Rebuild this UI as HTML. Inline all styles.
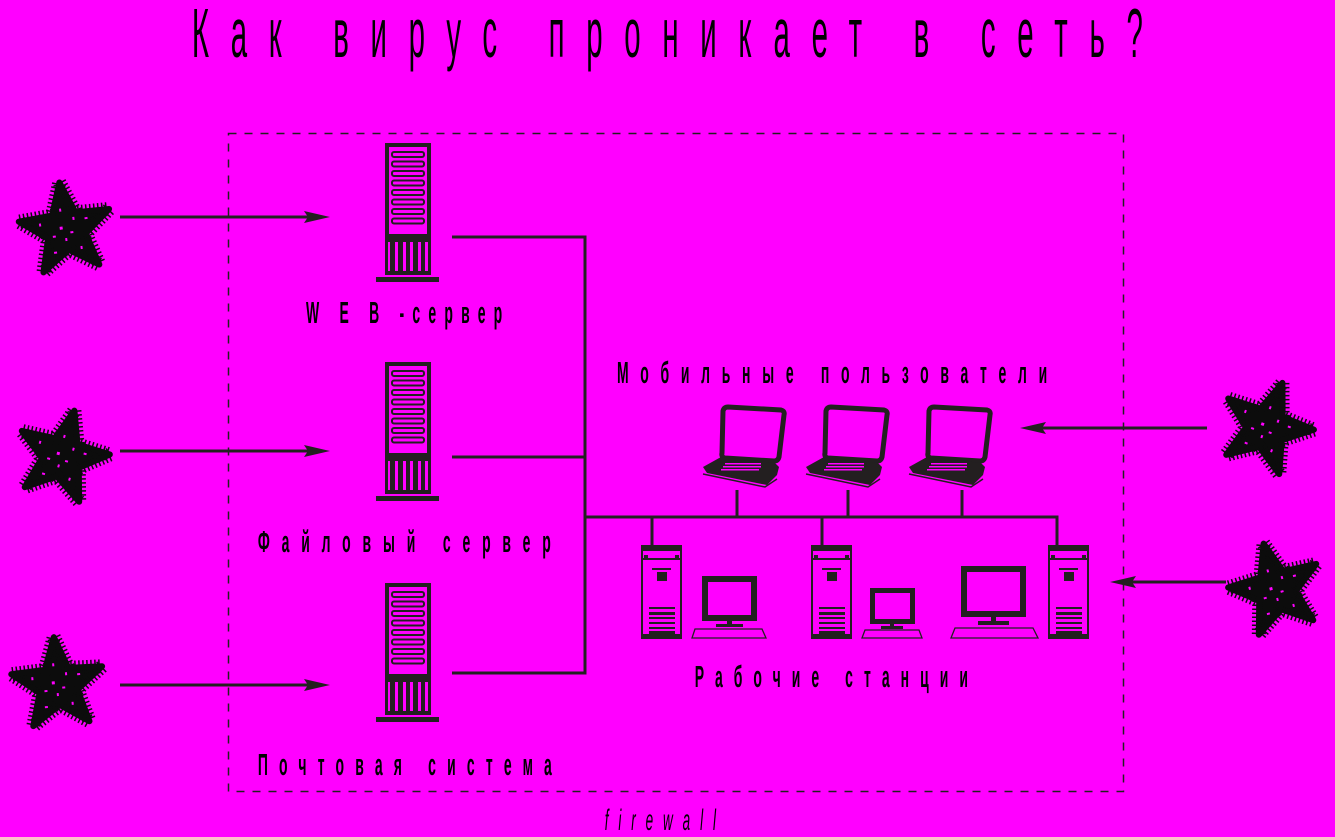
<!DOCTYPE html>
<html><head><meta charset="utf-8"><style>
html,body{margin:0;padding:0;background:#ff00ff;}
svg{display:block}
</style></head><body>
<svg width="1335" height="837" viewBox="0 0 1335 837" xmlns="http://www.w3.org/2000/svg">
<defs>
<g id="star">
  <polygon points="0,-48 11.8,-16.2 45.6,-14.8 19,6.2 28.2,38.8 0,20 -28.2,38.8 -19,6.2 -45.6,-14.8 -11.8,-16.2" fill="#0c0c0c" stroke="#0c0c0c" stroke-width="6" stroke-linejoin="round"/>
  <polygon points="0,-48 11.8,-16.2 45.6,-14.8 19,6.2 28.2,38.8 0,20 -28.2,38.8 -19,6.2 -45.6,-14.8 -11.8,-16.2" fill="none" stroke="#0c0c0c" stroke-width="14" stroke-dasharray="1.5 2.5" stroke-linejoin="round"/>
  <g fill="#ff00ff"><rect x="-6" y="-4" width="3" height="3"/><rect x="4" y="2" width="3" height="2"/><rect x="-2" y="8" width="2" height="3"/><rect x="8" y="-12" width="2" height="3"/><rect x="-14" y="4" width="3" height="2"/><rect x="-4" y="-22" width="2" height="3"/><rect x="20" y="-10" width="3" height="2"/><rect x="12" y="18" width="2" height="3"/><rect x="-15" y="20" width="3" height="2"/><rect x="-26" y="-10" width="2" height="3"/></g>
</g>
<g id="server">
  <rect x="0" y="0" width="46" height="132" fill="#231f20"/>
  <rect x="4" y="4" width="38" height="87" fill="#ff00ff"/>
  <g fill="none" stroke="#231f20" stroke-width="2">
    <rect x="7" y="9" width="32" height="5" rx="2"/>
    <rect x="7" y="18.5" width="32" height="5" rx="2"/>
    <rect x="7" y="28" width="32" height="5" rx="2"/>
    <rect x="7" y="37.5" width="32" height="5" rx="2"/>
    <rect x="7" y="47" width="32" height="5" rx="2"/>
    <rect x="7" y="56.5" width="32" height="5" rx="2"/>
    <rect x="7" y="66" width="32" height="5" rx="2"/>
    <rect x="7" y="75.5" width="32" height="5" rx="2"/>
  </g>
  <g fill="#ff00ff">
    <rect x="3" y="99" width="2" height="29"/><rect x="10" y="99" width="3" height="29"/><rect x="18" y="99" width="3" height="29"/><rect x="25" y="99" width="3" height="29"/><rect x="33" y="99" width="3" height="29"/><rect x="40" y="99" width="3" height="29"/>
  </g>
  <rect x="-9" y="134" width="63" height="5" fill="#231f20"/>
</g>
<g id="tower">
  <rect x="1" y="1" width="39" height="91" fill="none" stroke="#231f20" stroke-width="2"/>
  <rect x="0" y="0" width="41" height="6" fill="#231f20"/>
  <rect x="0" y="13" width="41" height="2" fill="#231f20"/>
  <rect x="3" y="10" width="4" height="3" fill="#231f20"/><rect x="34" y="10" width="4" height="3" fill="#231f20"/>
  <rect x="11" y="23" width="19" height="2" fill="#231f20"/>
  <rect x="16" y="27" width="10" height="9" fill="#231f20"/>
  <g fill="#231f20"><rect x="8" y="62" width="26" height="2"/><rect x="8" y="67" width="26" height="3"/><rect x="8" y="72" width="26" height="2"/><rect x="8" y="77" width="26" height="2"/><rect x="8" y="82" width="26" height="2"/><rect x="8" y="86" width="26" height="3"/></g>
  <rect x="0" y="89" width="41" height="5" fill="#231f20"/>
</g>
<g id="laptop">
  <path d="M25,2 L78,5 Q82,6 81,10 L76,52 Q75,56 71,56 L22,53 Q18,52 19,48 L20,6 Q21,2 25,2 Z" fill="none" stroke="#231f20" stroke-width="5"/>
  <path d="M18,52 L72,58 L76,62 L74,70 L64,80 L4,68 L0,62 Z" fill="#231f20"/>
  <g fill="#ff00ff"><rect x="22" y="58" width="36" height="1.5"/><rect x="20" y="61" width="38" height="1.5"/><rect x="18" y="64" width="38" height="1.5"/></g>
  <path d="M0,65 L62,78 L74,70" fill="none" stroke="#231f20" stroke-width="1.5" transform="translate(0,4)"/>
</g>
</defs>

<text transform="scale(0.42,1)" x="457" y="57" font-family="Liberation Sans, sans-serif" font-size="70" fill="#000" textLength="2264" lengthAdjust="spacing">Как вирус проникает в сеть?</text>

<rect x="228.5" y="133.5" width="895" height="658" fill="none" stroke="#231f20" stroke-width="1.5" stroke-dasharray="8 8"/>

<use href="#server" x="385" y="143"/>
<use href="#server" x="385" y="362"/>
<use href="#server" x="385" y="583"/>

<g stroke="#231f20" stroke-width="3" fill="none">
  <polyline points="452,237 585,237 585,673 452,673"/>
  <line x1="452" y1="457" x2="585" y2="457"/>
  <polyline points="585,517 1057,517 1057,546"/>
  <line x1="652" y1="517" x2="652" y2="546"/>
  <line x1="822" y1="517" x2="822" y2="546"/>
  <line x1="737" y1="490" x2="737" y2="517"/>
  <line x1="848" y1="490" x2="848" y2="517"/>
  <line x1="962" y1="490" x2="962" y2="517"/>
</g>

<use href="#laptop" x="703" y="405"/>
<use href="#laptop" x="806" y="405"/>
<use href="#laptop" x="909" y="405"/>

<use href="#tower" x="641" y="545"/>
<use href="#tower" x="811" y="545"/>
<use href="#tower" x="1048" y="545"/>
<g fill="#231f20">
  <rect x="702" y="576" width="55" height="45"/><rect x="708" y="582" width="43" height="33" fill="#ff00ff"/>
  <rect x="727" y="621" width="5" height="4"/><rect x="716" y="624" width="27" height="3"/>
  <rect x="870" y="588" width="45" height="36"/><rect x="875" y="593" width="35" height="26" fill="#ff00ff"/>
  <rect x="890" y="624" width="4" height="3"/><rect x="881" y="626" width="22" height="3"/>
  <rect x="961" y="566" width="65" height="51"/><rect x="967" y="572" width="53" height="39" fill="#ff00ff"/>
  <rect x="991" y="617" width="5" height="4"/><rect x="978" y="621" width="31" height="4"/>
</g>
<g fill="none" stroke="#231f20" stroke-width="1.3">
  <path d="M695,629 L762,629 L766,638 L692,638 Z"/>
  <path d="M865,630 L919,630 L922,638 L862,638 Z"/>
  <path d="M955,628 L1033,628 L1038,638 L951,638 Z"/>
</g>

<g stroke="#231f20" stroke-width="3">
  <line x1="120" y1="217" x2="315" y2="217"/>
  <line x1="120" y1="451" x2="315" y2="451"/>
  <line x1="120" y1="685" x2="315" y2="685"/>
  <line x1="1207" y1="428" x2="1035" y2="428"/>
  <line x1="1226" y1="582" x2="1125" y2="582"/>
</g>
<g fill="#231f20">
  <polygon points="330,217 304,211 308,217 304,223"/>
  <polygon points="330,451 304,445 308,451 304,457"/>
  <polygon points="330,685 304,679 308,685 304,691"/>
  <polygon points="1020,428 1046,422 1042,428 1046,434"/>
  <polygon points="1110,582 1136,576 1132,582 1136,588"/>
</g>

<use href="#star" transform="translate(66,230) rotate(-8)"/>
<use href="#star" transform="translate(62,457) rotate(15)"/>
<use href="#star" transform="translate(58,685) rotate(-5)"/>
<use href="#star" transform="translate(1266,428) rotate(20)"/>
<use href="#star" transform="translate(1276,590) rotate(-15)"/>

<g font-family="Liberation Sans, sans-serif" font-weight="bold" font-size="31" fill="#000">
  <text transform="scale(0.45,1)" x="680" y="323" textLength="436" lengthAdjust="spacing">W E B -сервер</text>
  <text transform="scale(0.45,1)" x="573" y="552" textLength="651" lengthAdjust="spacing">Файловый сервер</text>
  <text transform="scale(0.45,1)" x="573" y="775" textLength="653" lengthAdjust="spacing">Почтовая система</text>
  <text transform="scale(0.45,1)" x="1371" y="383" textLength="956" lengthAdjust="spacing">Мобильные пользователи</text>
  <text transform="scale(0.45,1)" x="1544" y="687" textLength="607" lengthAdjust="spacing">Рабочие станции</text>
</g>
<text transform="scale(0.45,1)" x="1344" y="830" font-family="Liberation Sans, sans-serif" font-style="italic" font-size="30" fill="#000" textLength="247" lengthAdjust="spacing">firewall</text>
</svg>
</body></html>
